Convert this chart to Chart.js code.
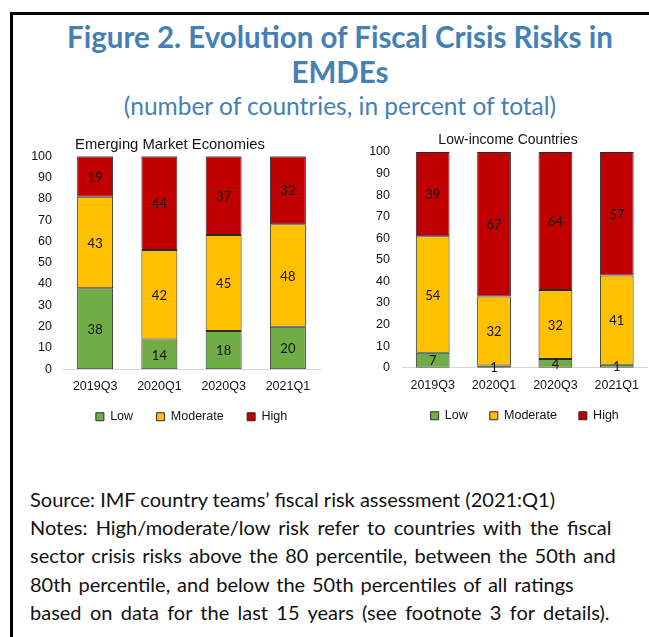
<!DOCTYPE html>
<html>
<head>
<meta charset="utf-8">
<script src="https://cdn.jsdelivr.net/npm/chart.js@4"></script>
<style>
  html, body { margin: 0; padding: 0; background: #fff; }
  body { width: 649px; height: 637px; position: relative; overflow: hidden; }
  .frame { position: absolute; left: 10px; top: 12px; width: 700px; height: 700px;
           border-left: 3px solid #000; border-top: 3px solid #000; }
  .t1, .t2, .sub { position: absolute; left: 13px; width: 654px; text-align: center; color: #4580b4; font-family: Lato, "Open Sans", sans-serif; white-space: nowrap; }
  .t1 { top: 19px; font-size: 29.5px; font-weight: bold; }
  .t2 { top: 54px; font-size: 29.5px; font-weight: bold; }
  .sub { top: 91px; font-size: 24.5px; font-weight: normal; }
  .notes { position: absolute; left: 30px; top: 485px; width: 620px; font-family: Lato, "Open Sans", sans-serif; font-size: 20px; line-height: 28.2px; color: #111; white-space: nowrap; }
  .notes div { height: 28.2px; }
  canvas { position: absolute; }
  #c1 { left: 20px; top: 130px; }
  #c2 { left: 367px; top: 125px; }
</style>
</head>
<body>
<div class="frame"></div>
<div class="t1">Figure 2. Evolution of Fiscal Crisis Risks in</div>
<div class="t2">EMDEs</div>
<div class="sub">(number of countries, in percent of total)</div>
<canvas id="c1" width="308" height="303"></canvas>
<canvas id="c2" width="282" height="307"></canvas>
<div class="notes">
<div style="word-spacing:0px">Source: IMF country teams’ fiscal risk assessment (2021:Q1)</div>
<div style="word-spacing:3.1px">Notes: High/moderate/low risk refer to countries with the fiscal</div>
<div style="word-spacing:2.1px">sector crisis risks above the 80 percentile, between the 50th and</div>
<div style="word-spacing:1.8px">80th percentile, and below the 50th percentiles of all ratings</div>
<div style="word-spacing:3.2px">based on data for the last 15 years (see footnote 3 for details).</div>
</div>
<script>
const categories = ['2019Q3', '2020Q1', '2020Q3', '2021Q1'];
const seriesNames = ['Low', 'Moderate', 'High'];
const emeLow = [38, 14, 18, 20];
const emeModerate = [43, 42, 45, 48];
const emeHigh = [19, 44, 37, 32];
const licLow = [7, 1, 4, 1.4];
const licModerate = [54, 32, 32, 41.4];
const licHigh = [39, 67, 64, 57.2];
const yTicks = [0, 10, 20, 30, 40, 50, 60, 70, 80, 90, 100];

const colors = ['#70ad47', '#ffc000', '#c00000'];
const AX = "'Liberation Sans', Arial, sans-serif";

const labelPlugin = {
  id: 'barLabels',
  afterDatasetsDraw(chart) {
    const ctx = chart.ctx;
    ctx.save();
    ctx.font = "13px Lato, 'Open Sans', sans-serif";
    ctx.fillStyle = '#111';
    ctx.textAlign = 'center';
    ctx.textBaseline = 'middle';
    chart.data.datasets.forEach((ds, di) => {
      const meta = chart.getDatasetMeta(di);
      meta.data.forEach((el, i) => {
        const p = el.getProps(['x', 'y', 'base'], true);
        ctx.fillText(String(Math.round(ds.data[i])), p.x, (p.y + p.base) / 2 + 1);
      });
    });
    ctx.restore();
  }
};

function makeChart(id, cfg) {
  const sets = [cfg.low, cfg.mod, cfg.high];
  return new Chart(document.getElementById(id), {
    type: 'bar',
    data: {
      labels: categories,
      datasets: seriesNames.map((n, k) => ({
        label: n,
        data: sets[k],
        backgroundColor: colors[k],
        borderColor: '#2a2a2a',
        borderWidth: 1,
        borderSkipped: false,
        categoryPercentage: 1,
        barPercentage: cfg.barPct
      }))
    },
    options: {
      responsive: false,
      animation: false,
      devicePixelRatio: 1,
      layout: { padding: { left: 0, right: cfg.padRight, top: 0, bottom: 0 } },
      plugins: {
        title: {
          display: true, text: cfg.title, color: '#111',
          font: { family: AX, size: cfg.titleSize, weight: 'normal' },
          padding: { top: cfg.titleTop, bottom: cfg.titleBottom }
        },
        legend: {
          position: 'bottom',
          fullSize: false,
          labels: {
            boxWidth: 8, boxHeight: 8, padding: cfg.legPad, color: '#111',
            font: { family: AX, size: 12.5 }
          }
        },
        tooltip: { enabled: false }
      },
      scales: {
        x: {
          stacked: true,
          afterFit(s) {
            s.height = cfg.xH;
            // let the category labels draw below the compact axis box
            s._computeLabelArea = () => undefined;
          },
          grid: { display: false, drawTicks: false },
          border: { display: true, color: '#d9d9d9', width: 1 },
          ticks: { color: '#111', font: { family: AX, size: 12.5 }, padding: 10, maxRotation: 0 }
        },
        y: {
          stacked: true, min: 0, max: 100,
          afterFit(s) { s.width = cfg.yW; },
          afterBuildTicks(s) { s.ticks = yTicks.map(v => ({ value: v })); },
          grid: { display: false, drawTicks: false },
          border: { display: false },
          ticks: { color: '#111', font: { family: AX, size: 12.5 }, padding: cfg.tickPad }
        }
      }
    },
    plugins: [labelPlugin]
  });
}

makeChart('c1', { title: 'Emerging Market Economies', low: emeLow, mod: emeModerate, high: emeHigh,
  yW: 43, tickPad: 11, padRight: 8, barPct: 0.56, titleSize: 14.8, titleTop: 6, titleBottom: 2.4,
  legPad: 23.5, xH: 17.75 });
makeChart('c2', { title: 'Low-income Countries', low: licLow, mod: licModerate, high: licHigh,
  yW: 35, tickPad: 12, padRight: 0, barPct: 0.55, titleSize: 14, titleTop: 6.6, titleBottom: 3.6,
  legPad: 22, xH: 19.75 });
</script>
</body>
</html>
